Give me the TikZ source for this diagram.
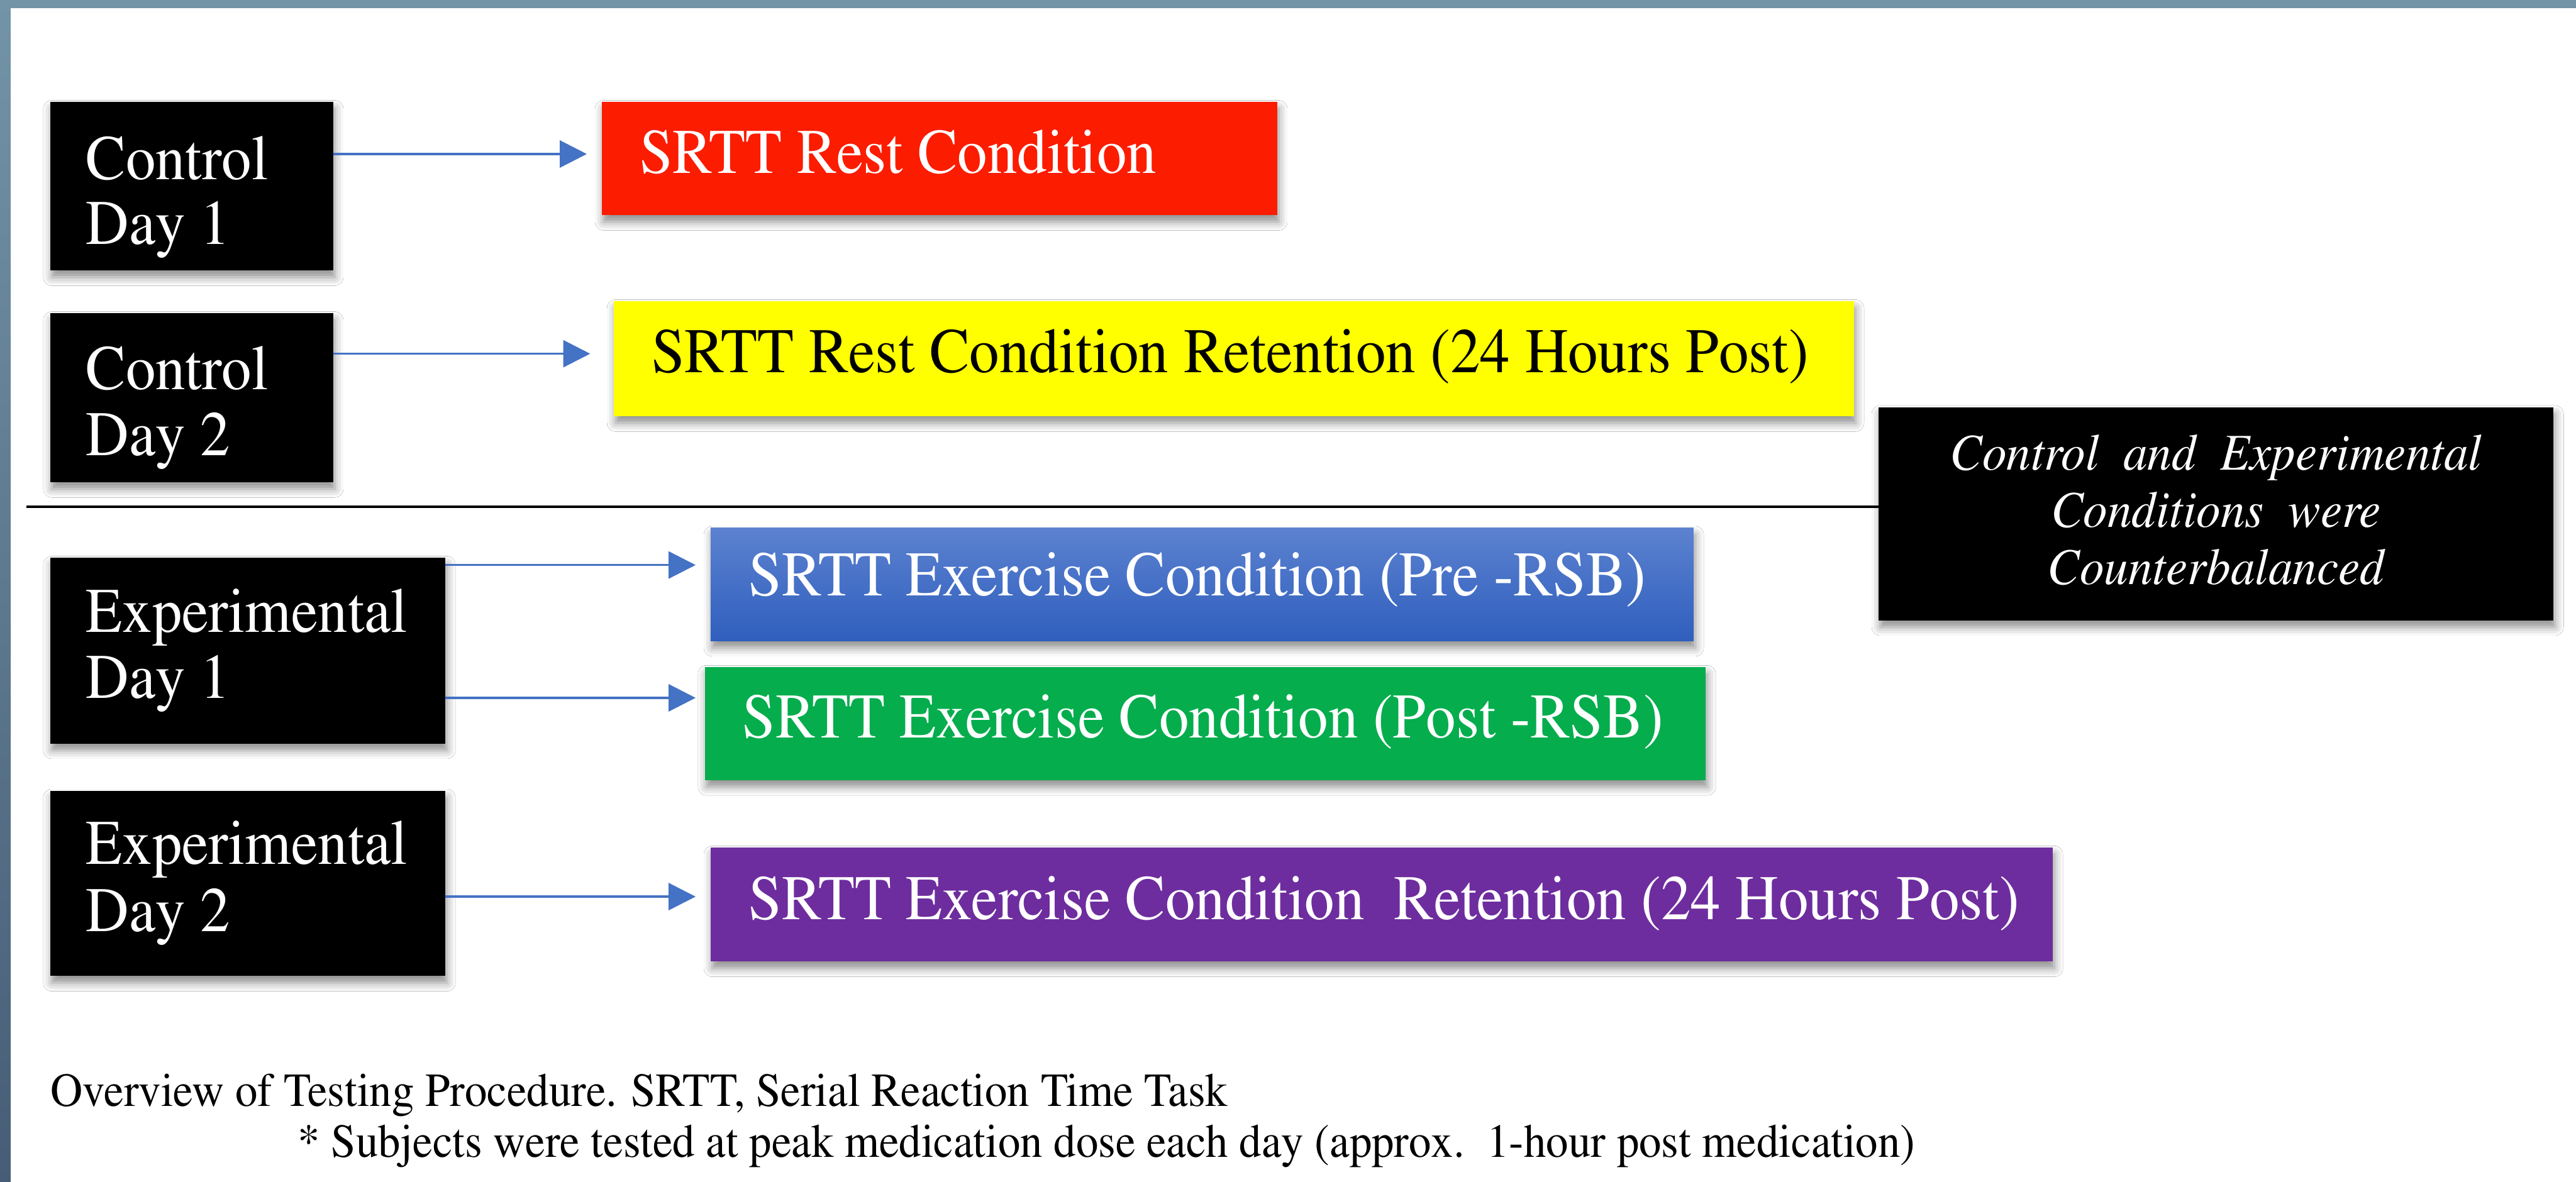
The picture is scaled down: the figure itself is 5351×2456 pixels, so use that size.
\documentclass[tikz,border=0pt]{standalone}
\usepackage[T1]{fontenc}
\renewcommand{\rmdefault}{ptm}
\usetikzlibrary{arrows.meta,fit,shadows.blur}

\definecolor{framebar}{HTML}{7393A7}
\definecolor{framedark}{HTML}{475D77}
\definecolor{arrowblue}{HTML}{4472C4}
\definecolor{restred}{HTML}{FC1C00}
\definecolor{retyellow}{HTML}{FFFF00}
\definecolor{exbluetop}{HTML}{5C82D0}
\definecolor{exbluebot}{HTML}{2F5EBD}
\definecolor{exgreen}{HTML}{05AD4D}
\definecolor{expurple}{HTML}{6E2D9E}

% slightly condensed setting of a line of text
\newcommand{\narrow}[1]{\scalebox{0.94}[1]{#1}}

\begin{document}
\begin{tikzpicture}[x=0.01cm, y=-0.01cm,
  box/.style={inner sep=0pt, outer sep=0pt, draw=none,
    blur shadow={shadow xshift=1pt, shadow yshift=-4pt,
      shadow blur radius=5pt, shadow opacity=45}},
  daybox/.style={box, fill=black},
  boxtext/.style={anchor=base west, inner sep=0pt,
    font=\rmfamily\fontsize{37.5}{39}\selectfont, text=white},
  notetext/.style={anchor=base, inner sep=0pt,
    font=\rmfamily\fontsize{30.5}{34}\selectfont\itshape, text=white},
  captext/.style={anchor=base west, inner sep=0pt,
    font=\rmfamily\fontsize{28}{30}\selectfont, text=black},
  flow/.style={draw=arrowblue, line width=1.3pt,
    -{Triangle[length=0.56cm,width=0.56cm]}},
]
% page and slide frame
\fill[white] (0,0) rectangle (5351,2456);
\useasboundingbox (0,0) rectangle (5351,2456);
\fill[framebar] (0,0) rectangle (5351,17);
\shade[top color=framebar, bottom color=framedark] (0,0) rectangle (22,2456);

% session boxes
\node[daybox, fit={(104,212) (692,562)}] (cd1) {};
\node[daybox, fit={(104,651) (692,1002)}] (cd2) {};
\node[daybox, fit={(104,1159) (925,1545)}] (ed1) {};
\node[daybox, fit={(104,1643) (925,2028)}] (ed2) {};

\node[boxtext] (cd1a) at (178,373) {\narrow{Control}};
\node[boxtext] (cd1b) at (178,507) {\narrow{Day 1}};
\node[boxtext] (cd2a) at (178,809) {\narrow{Control}};
\node[boxtext] (cd2b) at (178,946) {\narrow{Day 2}};
\node[boxtext] (ed1a) at (178,1313) {\narrow{Experimental}};
\node[boxtext] (ed1b) at (178,1451) {\narrow{Day 1}};
\node[boxtext] (ed2a) at (178,1795) {\narrow{Experimental}};
\node[boxtext] (ed2b) at (178,1935) {\narrow{Day 2}};

% condition boxes
\node[box, fill=restred, fit={(1250,212) (2653,447)}] (red) {};
\node[box, fill=retyellow, fit={(1275,626) (3851,865)}] (yellow) {};
\node[box, top color=exbluetop, bottom color=exbluebot,
      fit={(1476,1097) (3518,1332)}] (blue) {};
\node[box, fill=exgreen, fit={(1464,1386) (3543,1621)}] (green) {};
\node[box, fill=expurple, fit={(1476,1761) (4264,1998)}] (purple) {};

\node[boxtext] (redt) at (1328,360) {\narrow{SRTT Rest Condition}};
\node[boxtext, text=black] (yellowt) at (1353,774)
  {\narrow{SRTT Rest Condition Retention (24 Hours Post)}};
\node[boxtext] (bluet) at (1555,1238)
  {\narrow{SRTT Exercise Condition (Pre -RSB)}};
\node[boxtext] (greent) at (1542,1533)
  {\narrow{SRTT Exercise Condition (Post -RSB)}};
\node[boxtext] (purplet) at (1555,1911)
  {\narrow{SRTT Exercise Condition\ \ Retention (24 Hours Post)}};

% counterbalancing note
\node[daybox, fit={(3902,846) (5304,1289)}] (note) {};
\node[notetext] (notea) at (4603,977) {\narrow{Control\ \ and\ \ Experimental}};
\node[notetext] (noteb) at (4603,1096) {\narrow{Conditions\ \ were}};
\node[notetext] (notec) at (4603,1214) {\narrow{Counterbalanced}};

% divider between control and experimental sessions
\coordinate (sepstart) at (55,1053);
\draw[line width=1.3pt] (sepstart) -- (note.west |- sepstart);

% session to condition connectors
\draw[flow, shorten >=0.31cm] (cd1.east |- 0,320) -- (red.west |- 0,320);
\draw[flow, shorten >=0.49cm] (cd2.east |- 0,735) -- (yellow.west |- 0,735);
\draw[flow, shorten >=0.31cm] (ed1.east |- 0,1174) -- (blue.west |- 0,1174);
\draw[flow, shorten >=0.19cm] (ed1.east |- 0,1450) -- (green.west |- 0,1450);
\draw[flow, shorten >=0.31cm] (ed2.east |- 0,1863) -- (purple.west |- 0,1863);

% caption
\node[captext] (cap1) at (104,2299)
  {\narrow{Overview of Testing Procedure. SRTT, Serial Reaction Time Task}};
\node[captext] (cap2) at (618,2404)
  {\narrow{* Subjects were tested at peak medication dose each day (approx.\ \ 1-hour post medication)}};
\end{tikzpicture}
\end{document}
